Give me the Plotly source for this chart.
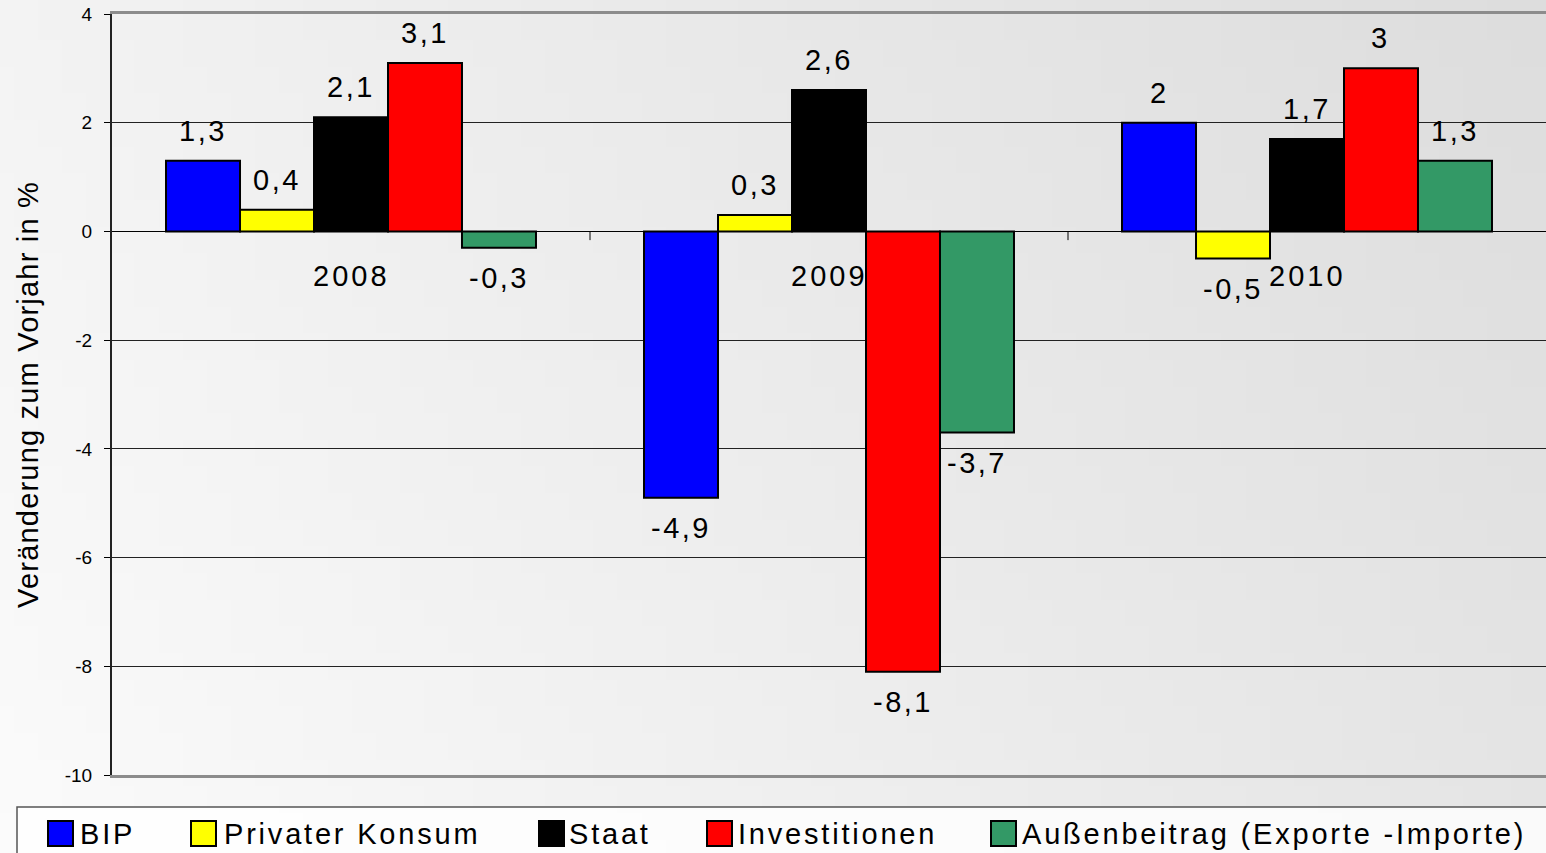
import base64, struct, zlib
import plotly.graph_objects as go

# ---------------- data ----------------
categories = ["2008", "2009", "2010"]
series_names = ["BIP", "Privater Konsum", "Staat", "Investitionen",
                "Außenbeitrag (Exporte -Importe)"]
bip = [1.3, -4.9, 2.0]
privater_konsum = [0.4, 0.3, -0.5]
staat = [2.1, 2.6, 1.7]
investitionen = [3.1, -8.1, 3.0]
aussenbeitrag = [-0.3, -3.7, 1.3]
series_values = [bip, privater_konsum, staat, investitionen, aussenbeitrag]
series_colors = ["#0000ff", "#ffff00", "#000000", "#ff0000", "#339966"]
y_ticks = [-10, -8, -6, -4, -2, 0, 2, 4]
y_title = "Veränderung zum Vorjahr in %"

# ---------------- geometry ----------------
W, H = 1546, 853
L, T, R_EDGE, B = 112, 14, 1546, 775
PW, PH = R_EDGE - L, B - T
BARGAP = 0.226
FONT = "Liberation Sans, Arial, sans-serif"


def px_x(p):
    return (p - L) / PW


def px_y(p):
    return (B - p) / PH


def fmt(v):
    return ("%g" % v).replace(".", ",")


def spaced(s, sp=3):
    return '<span style="letter-spacing:%gpx">%s</span>' % (sp, s)


# ---------------- background gradient as PNG ----------------
def gray_png(w, h, f):
    raw = b"".join(b"\x00" + bytes(f(x, y) for x in range(w)) for y in range(h))

    def chunk(tag, data):
        return (struct.pack(">I", len(data)) + tag + data +
                struct.pack(">I", zlib.crc32(tag + data) & 0xffffffff))

    ihdr = struct.pack(">IIBBBBB", w, h, 8, 0, 0, 0, 0)
    return (b"\x89PNG\r\n\x1a\n" + chunk(b"IHDR", ihdr) +
            chunk(b"IDAT", zlib.compress(raw, 9)) + chunk(b"IEND", b""))


GW, GH = 64, 32
png = gray_png(GW, GH, lambda x, y: int(round(243 - 22 * x / (GW - 1) + 8 * y / (GH - 1))))
bg_src = "data:image/png;base64," + base64.b64encode(png).decode()

fig = go.Figure()
for name, vals, col in zip(series_names, series_values, series_colors):
    fig.add_trace(go.Bar(
        name=name, x=categories, y=vals,
        marker=dict(color=col, line=dict(color="black", width=2)),
        showlegend=False,
    ))

annotations = []
n = len(series_names)
bw = (1 - BARGAP) / n
for j, vals in enumerate(series_values):
    for i, v in enumerate(vals):
        annotations.append(dict(
            x=i + (j - (n - 1) / 2) * bw, y=v, xref="x", yref="y",
            text=spaced(fmt(v), 2.5), showarrow=False, yanchor="middle",
            yshift=30 if v >= 0 else -30,
            font=dict(size=29, color="black", family=FONT),
        ))
for i, c in enumerate(categories):
    annotations.append(dict(
        x=i, y=0, xref="x", yref="y", text=spaced(c, 3), showarrow=False,
        yanchor="middle", yshift=-45,
        font=dict(size=29, color="black", family=FONT),
    ))

shapes = []
# category boundary ticks on the zero line
for i in range(len(categories) - 1):
    shapes.append(dict(type="line", xref="x", yref="y", x0=i + 0.5, x1=i + 0.5,
                       y0=0, y1=-0.16, line=dict(color="black", width=1)))

# manual legend
shapes.append(dict(type="rect", xref="paper", yref="paper",
                   x0=px_x(17), x1=px_x(1560), y0=px_y(807), y1=px_y(870),
                   line=dict(color="#555555", width=1.5),
                   fillcolor="rgba(255,255,255,0.8)", layer="above"))
sq_x = [48, 191, 539, 707, 991]
tx_x = [78, 222, 567, 736, 1020]
for name, col, sx, tx in zip(series_names, series_colors, sq_x, tx_x):
    shapes.append(dict(type="rect", xref="paper", yref="paper",
                       x0=px_x(sx), x1=px_x(sx + 25), y0=px_y(846), y1=px_y(821),
                       fillcolor=col, line=dict(color="black", width=2)))
    annotations.append(dict(
        x=px_x(tx), y=px_y(834), xref="paper", yref="paper", text=spaced(name, 2.8),
        showarrow=False, xanchor="left", yanchor="middle",
        font=dict(size=29, color="black", family=FONT),
    ))

fig.update_layout(
    width=W, height=H,
    margin=dict(l=L, r=W - R_EDGE, t=T, b=H - B, pad=0),
    paper_bgcolor="white", plot_bgcolor="rgba(0,0,0,0)",
    barmode="group", bargap=BARGAP, bargroupgap=0,
    font=dict(family=FONT, color="black"),
    showlegend=False,
    images=[dict(source=bg_src, xref="paper", yref="paper",
                 x=px_x(0), y=px_y(0), sizex=W / PW, sizey=H / PH,
                 xanchor="left", yanchor="top", sizing="stretch", layer="below")],
    annotations=annotations, shapes=shapes,
)
fig.update_xaxes(
    type="category", showticklabels=False, ticks="", showgrid=False,
    showline=True, linecolor="#8c8c8c", linewidth=3, mirror=True,
    range=[-0.5, len(categories) - 0.5], zeroline=False,
)
fig.update_yaxes(
    range=[-10, 4], tickvals=y_ticks, ticktext=[str(t) for t in y_ticks],
    ticks="outside", ticklen=6, tickcolor="black", tickwidth=1,
    ticklabelstandoff=8,
    tickfont=dict(size=19, color="black", family=FONT),
    showgrid=True, gridcolor="#222222", gridwidth=1,
    zeroline=True, zerolinecolor="black", zerolinewidth=1,
    showline=True, linecolor="#222222", linewidth=2,
    title=dict(text=spaced(y_title, 1.2), font=dict(size=29, color="black", family=FONT),
               standoff=18),
)

fig.write_html(
    "out.html",
    config={"displayModeBar": False},
    post_script="document.body.style.margin='0';document.body.style.overflow='hidden';",
)
